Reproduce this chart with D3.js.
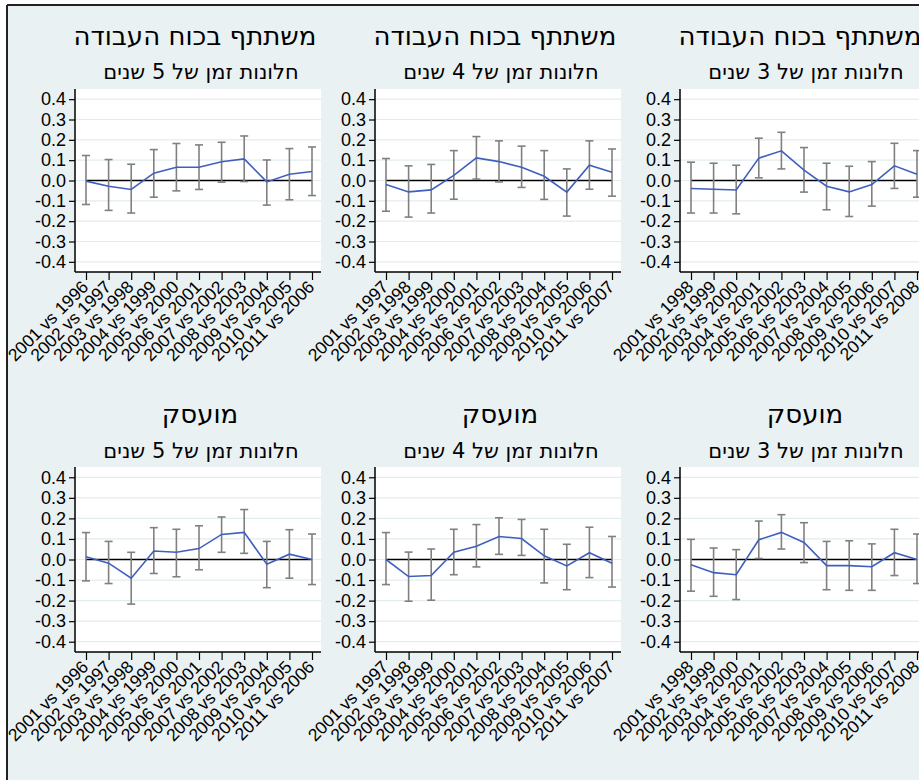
<!DOCTYPE html>
<html><head><meta charset="utf-8">
<script src="https://cdn.jsdelivr.net/npm/d3@7"></script>
<style>body{margin:0;background:#fff}</style>
</head><body><svg id="c" width="919" height="780"></svg>
<script>
// ---------- data ----------
const titleLabor = "משתתף בכוח העבודה";
const titleEmployed = "מועסק";
const sub5 = "חלונות זמן של 5 שנים";
const sub4 = "חלונות זמן של 4 שנים";
const sub3 = "חלונות זמן של 3 שנים";

const cats5 = ["2001 vs 1996","2002 vs 1997","2003 vs 1998","2004 vs 1999","2005 vs 2000","2006 vs 2001","2007 vs 2002","2008 vs 2003","2009 vs 2004","2010 vs 2005","2011 vs 2006"];
const cats4 = ["2001 vs 1997","2002 vs 1998","2003 vs 1999","2004 vs 2000","2005 vs 2001","2006 vs 2002","2007 vs 2003","2008 vs 2004","2009 vs 2005","2010 vs 2006","2011 vs 2007"];
const cats3 = ["2001 vs 1998","2002 vs 1999","2003 vs 2000","2004 vs 2001","2005 vs 2002","2006 vs 2003","2007 vs 2004","2008 vs 2005","2009 vs 2006","2010 vs 2007","2011 vs 2008"];

const yTickValues = [0.4,0.3,0.2,0.1,0.0,-0.1,-0.2,-0.3,-0.4];

// participation in labour force
const labor5Est = [-0.003,-0.028,-0.044,0.036,0.065,0.065,0.092,0.106,-0.007,0.031,0.044];
const labor5Hi  = [0.123,0.103,0.080,0.152,0.182,0.175,0.188,0.219,0.101,0.157,0.165];
const labor5Lo  = [-0.118,-0.147,-0.160,-0.082,-0.051,-0.044,-0.008,-0.005,-0.121,-0.095,-0.074];

const labor4Est = [-0.020,-0.056,-0.046,0.025,0.111,0.093,0.065,0.021,-0.057,0.075,0.041];
const labor4Hi  = [0.108,0.072,0.079,0.147,0.216,0.195,0.169,0.147,0.057,0.195,0.155];
const labor4Lo  = [-0.151,-0.180,-0.160,-0.092,0.007,-0.007,-0.034,-0.093,-0.175,-0.043,-0.077];

const labor3Est = [-0.039,-0.043,-0.047,0.110,0.146,0.051,-0.028,-0.056,-0.020,0.072,0.031];
const labor3Hi  = [0.090,0.085,0.075,0.208,0.237,0.162,0.085,0.070,0.093,0.183,0.147];
const labor3Lo  = [-0.160,-0.160,-0.164,0.013,0.057,-0.057,-0.144,-0.177,-0.126,-0.039,-0.082];

// employed
const emp5Est = [0.013,-0.018,-0.091,0.041,0.035,0.053,0.122,0.132,-0.023,0.026,0.000];
const emp5Hi  = [0.131,0.088,0.035,0.155,0.147,0.164,0.207,0.243,0.088,0.145,0.124];
const emp5Lo  = [-0.104,-0.117,-0.217,-0.068,-0.084,-0.050,0.035,0.030,-0.137,-0.091,-0.122];

const emp4Est = [0.000,-0.083,-0.078,0.035,0.064,0.112,0.102,0.018,-0.031,0.033,-0.018];
const emp4Hi  = [0.131,0.036,0.051,0.147,0.170,0.203,0.195,0.147,0.074,0.157,0.112];
const emp4Lo  = [-0.122,-0.203,-0.198,-0.074,-0.036,0.025,0.020,-0.114,-0.147,-0.088,-0.134];

const emp3Est = [-0.026,-0.064,-0.074,0.096,0.132,0.083,-0.030,-0.030,-0.035,0.033,0.000];
const emp3Hi  = [0.098,0.056,0.048,0.187,0.218,0.179,0.088,0.091,0.076,0.147,0.124];
const emp3Lo  = [-0.154,-0.179,-0.195,0.005,0.051,-0.015,-0.147,-0.150,-0.150,-0.078,-0.117];

// ---------- layout ----------
const W = 919, H = 780;
const colLeft = [75, 375, 680];
const plotW = 246;
const rowTop = [89, 467];
const rowBottom = [272, 652];
const titleY = [45, 423];
const subY = [79, 458];

const panels = [
  {row:0,col:0,title:titleLabor,sub:sub5,cats:cats5,est:labor5Est,lo:labor5Lo,hi:labor5Hi},
  {row:0,col:1,title:titleLabor,sub:sub4,cats:cats4,est:labor4Est,lo:labor4Lo,hi:labor4Hi},
  {row:0,col:2,title:titleLabor,sub:sub3,cats:cats3,est:labor3Est,lo:labor3Lo,hi:labor3Hi},
  {row:1,col:0,title:titleEmployed,sub:sub5,cats:cats5,est:emp5Est,lo:emp5Lo,hi:emp5Hi},
  {row:1,col:1,title:titleEmployed,sub:sub4,cats:cats4,est:emp4Est,lo:emp4Lo,hi:emp4Hi},
  {row:1,col:2,title:titleEmployed,sub:sub3,cats:cats3,est:emp3Est,lo:emp3Lo,hi:emp3Hi},
];

const svg = d3.select("#c");
svg.append("rect").attr("x",0).attr("y",0).attr("width",W).attr("height",H).attr("fill","#ffffff");
svg.append("rect").attr("x",7).attr("y",5).attr("width",W).attr("height",H).attr("fill","#EAF1F3");
svg.append("line").attr("x1",7).attr("x2",W).attr("y1",5).attr("y2",5).attr("stroke","#222").attr("stroke-width",2);
svg.append("line").attr("x1",7).attr("x2",7).attr("y1",5).attr("y2",H).attr("stroke","#222").attr("stroke-width",2);

const numFont = "'Liberation Sans', Arial, sans-serif";
const hebFont = "'DejaVu Sans', sans-serif";

panels.forEach(p => {
  const left = colLeft[p.col], top = rowTop[p.row], bottom = rowBottom[p.row];
  const g = svg.append("g");
  const x = d3.scaleLinear().domain([0, p.cats.length-1]).range([left+11, left+237]);
  const y = d3.scaleLinear().domain([-0.45, 0.45]).range([bottom, top]);

  g.append("rect").attr("x",left).attr("y",top).attr("width",plotW).attr("height",bottom-top).attr("fill","#fff");
  // gridlines
  g.selectAll(".grid").data(yTickValues).enter().append("line")
    .attr("x1",left).attr("x2",left+plotW)
    .attr("y1",d=>y(d)).attr("y2",d=>y(d))
    .attr("stroke","#E3ECEF").attr("stroke-width",1.2);
  // zero line across the data range
  g.append("line").attr("x1",x(0)).attr("x2",x(p.cats.length-1))
    .attr("y1",y(0)).attr("y2",y(0)).attr("stroke","#000").attr("stroke-width",1.5);

  // y axis
  const yAxis = d3.axisLeft(y).tickValues(yTickValues).tickFormat(d3.format(".1f")).tickSizeOuter(0).tickSize(6).tickPadding(3);
  const ya = g.append("g").attr("transform",`translate(${left},0)`).call(yAxis);
  ya.select(".domain").attr("d",`M0,${top}V${bottom}`).attr("stroke","#000").attr("stroke-width",1.5);
  ya.selectAll(".tick line").attr("stroke","#000").attr("stroke-width",1.2);
  ya.selectAll(".tick text").attr("font-family",numFont).attr("font-size",18).attr("fill","#000")
    .text(d => d3.format(".1f")(d).replace("−","-"));

  // x axis
  const xAxis = d3.axisBottom(x).tickValues(d3.range(p.cats.length)).tickFormat(i=>p.cats[i]).tickSizeOuter(0).tickSize(8);
  const xa = g.append("g").attr("transform",`translate(0,${bottom})`).call(xAxis);
  xa.select(".domain").attr("d",`M${left},0H${left+plotW}`).attr("stroke","#000").attr("stroke-width",1.5);
  xa.selectAll(".tick line").attr("stroke","#000").attr("stroke-width",1.2);
  xa.selectAll(".tick text").attr("font-family",numFont).attr("font-size",17.5).attr("fill","#000")
    .attr("text-anchor","end").attr("dy",0).attr("y",0)
    .attr("transform","translate(3,16) rotate(-45)");

  // error bars
  const eb = g.append("g");
  p.est.forEach((v,i) => {
    const cx = x(i);
    eb.append("line").attr("x1",cx).attr("x2",cx).attr("y1",y(p.lo[i])).attr("y2",y(p.hi[i])).attr("stroke","#808080").attr("stroke-width",1.6);
    eb.append("line").attr("x1",cx-4).attr("x2",cx+4).attr("y1",y(p.lo[i])).attr("y2",y(p.lo[i])).attr("stroke","#808080").attr("stroke-width",1.6);
    eb.append("line").attr("x1",cx-4).attr("x2",cx+4).attr("y1",y(p.hi[i])).attr("y2",y(p.hi[i])).attr("stroke","#808080").attr("stroke-width",1.6);
  });
  // estimate line
  g.append("path").datum(p.est)
    .attr("d", d3.line().x((d,i)=>x(i)).y(d=>y(d)))
    .attr("fill","none").attr("stroke","#3F5FBF").attr("stroke-width",1.6);

  // titles
  g.append("text").attr("x",left+(p.row===0?120:125)).attr("y",titleY[p.row])
    .attr("text-anchor","middle").attr("direction","rtl")
    .attr("font-family",hebFont).attr("font-size",26).attr("fill","#000").text(p.title);
  g.append("text").attr("x",left+126).attr("y",subY[p.row])
    .attr("text-anchor","middle").attr("direction","rtl")
    .attr("font-family",hebFont).attr("font-size",21).attr("fill","#000").text(p.sub);
});
</script></body></html>
